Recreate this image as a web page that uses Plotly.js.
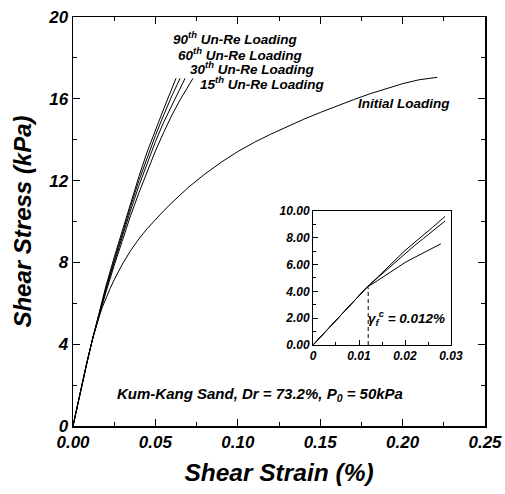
<!DOCTYPE html>
<html>
<head>
<meta charset="utf-8">
<script src="https://cdn.plot.ly/plotly-3.0.1.min.js"></script>
<style>html,body{margin:0;padding:0;background:#fff;}#chart{width:505px;height:494px;}</style>
</head>
<body>
<div id="chart"></div>
<script>
// Main chart data (shear strain %, shear stress kPa)
var initStrain = [0, 0.004, 0.008, 0.010, 0.012, 0.014, 0.016, 0.018, 0.020, 0.0225, 0.025, 0.0275, 0.030, 0.035, 0.040, 0.045, 0.050, 0.055, 0.060, 0.065, 0.070, 0.080, 0.090, 0.100, 0.110, 0.120, 0.130, 0.140, 0.150, 0.160, 0.170, 0.180, 0.190, 0.200, 0.210, 0.221];
var initStress = [0, 1.5, 2.95, 3.63, 4.28, 4.86, 5.38, 5.85, 6.25, 6.72, 7.15, 7.55, 7.92, 8.58, 9.15, 9.65, 10.1, 10.52, 10.92, 11.3, 11.67, 12.32, 12.9, 13.42, 13.87, 14.27, 14.65, 15.0, 15.33, 15.65, 15.95, 16.24, 16.5, 16.74, 16.93, 17.05];

var re90Strain = [0, 0.004, 0.008, 0.012, 0.016, 0.020, 0.025, 0.030, 0.035, 0.040, 0.045, 0.050, 0.055, 0.0625];
var re90Stress = [0, 1.5, 2.95, 4.3, 5.6, 6.85, 8.25, 9.6, 10.95, 12.2, 13.4, 14.5, 15.5, 17.0];

var re60Strain = [0, 0.004, 0.008, 0.012, 0.016, 0.020, 0.025, 0.030, 0.035, 0.040, 0.045, 0.050, 0.055, 0.060, 0.065];
var re60Stress = [0, 1.5, 2.95, 4.3, 5.55, 6.75, 8.1, 9.45, 10.75, 12.0, 13.15, 14.2, 15.2, 16.15, 17.0];

var re30Strain = [0, 0.004, 0.008, 0.012, 0.016, 0.020, 0.025, 0.030, 0.035, 0.040, 0.045, 0.050, 0.055, 0.060, 0.068];
var re30Stress = [0, 1.5, 2.95, 4.3, 5.5, 6.65, 8.0, 9.3, 10.55, 11.75, 12.85, 13.9, 14.85, 15.7, 17.0];

var re15Strain = [0, 0.004, 0.008, 0.012, 0.016, 0.020, 0.025, 0.030, 0.035, 0.040, 0.045, 0.050, 0.055, 0.060, 0.065, 0.0728];
var re15Stress = [0, 1.5, 2.95, 4.3, 5.45, 6.55, 7.85, 9.1, 10.3, 11.4, 12.45, 13.45, 14.35, 15.2, 15.95, 17.0];

// Inset data
var insetStrainA = [0, 0.004, 0.008, 0.0117, 0.014, 0.016, 0.018, 0.020, 0.022, 0.024, 0.026, 0.0287];
var insetStressA = [0, 1.45, 2.9, 4.3, 5.05, 5.68, 6.38, 7.05, 7.62, 8.18, 8.78, 9.6];
var insetStrainB = [0, 0.004, 0.008, 0.0117, 0.014, 0.016, 0.018, 0.020, 0.022, 0.024, 0.026, 0.0287];
var insetStressB = [0, 1.45, 2.9, 4.3, 5.0, 5.6, 6.25, 6.85, 7.4, 7.95, 8.5, 9.25];
var insetStrainC = [0, 0.004, 0.008, 0.0117, 0.014, 0.016, 0.018, 0.020, 0.022, 0.024, 0.026, 0.0278];
var insetStressC = [0, 1.45, 2.9, 4.3, 4.8, 5.25, 5.72, 6.15, 6.52, 6.88, 7.22, 7.55];
var thresholdStrain = [0.012, 0.012];
var thresholdStress = [0, 4.3];

var mainXTicks = [0, 0.05, 0.10, 0.15, 0.20, 0.25];
var mainXLabels = ['0.00', '0.05', '0.10', '0.15', '0.20', '0.25'];
var mainYTicks = [0, 4, 8, 12, 16, 20];
var insetXTicks = [0, 0.01, 0.02, 0.03];
var insetXLabels = ['0', '0.01', '0.02', '0.03'];
var insetYTicks = [0, 2, 4, 6, 8, 10];
var insetYLabels = ['0.00', '2.00', '4.00', '6.00', '8.00', '10.00'];

var F = 'Liberation Sans, Arial, sans-serif';
function ln(x, y, xa, ya, dash) {
  return {x: x, y: y, xaxis: xa, yaxis: ya, mode: 'lines', type: 'scatter',
    line: {color: '#000', width: 1, shape: 'linear', dash: dash || 'solid'}, hoverinfo: 'skip'};
}
var traces = [
  ln(initStrain, initStress, 'x', 'y'),
  ln(re90Strain, re90Stress, 'x', 'y'),
  ln(re60Strain, re60Stress, 'x', 'y'),
  ln(re30Strain, re30Stress, 'x', 'y'),
  ln(re15Strain, re15Stress, 'x', 'y'),
  ln(insetStrainA, insetStressA, 'x2', 'y2'),
  ln(insetStrainB, insetStressB, 'x2', 'y2'),
  ln(insetStrainC, insetStressC, 'x2', 'y2'),
  ln(thresholdStrain, thresholdStress, 'x2', 'y2', '4px,3px')
];

var tickFont = {family: F, size: 17, color: '#000', weight: 'bold', style: 'italic'};
var insetTickFont = {family: F, size: 12, color: '#000', weight: 'bold', style: 'italic'};
var annFont = {family: F, size: 13.5, color: '#000', weight: 'bold', style: 'italic'};

var layout = {
  width: 505, height: 494,
  margin: {l: 73, r: 20, t: 17, b: 68},
  paper_bgcolor: '#fff', plot_bgcolor: '#fff',
  showlegend: false,
  font: {family: F, color: '#000'},
  xaxis: {
    domain: [0, 1], range: [0, 0.25], tickvals: mainXTicks, ticktext: mainXLabels,
    ticks: 'inside', ticklen: 7, tickwidth: 1, tickcolor: '#000',
    minor: {ticks: 'inside', dtick: 0.025, ticklen: 4, tickcolor: '#000', showgrid: false},
    showline: true, linecolor: '#000', linewidth: 1.5, mirror: 'ticks',
    showgrid: false, zeroline: false, tickfont: tickFont,
    title: {text: 'Shear Strain (%)', font: {family: F, size: 24.5, color: '#000', weight: 'bold', style: 'italic'}, standoff: 13}
  },
  yaxis: {
    domain: [0, 1], range: [0, 20], tickvals: mainYTicks,
    ticks: 'inside', ticklen: 7, tickwidth: 1, tickcolor: '#000',
    minor: {ticks: 'inside', dtick: 2, ticklen: 4, tickcolor: '#000', showgrid: false},
    showline: true, linecolor: '#000', linewidth: 1.5, mirror: 'ticks',
    showgrid: false, zeroline: false, tickfont: tickFont,
    title: {text: 'Shear Stress (kPa)', font: {family: F, size: 24, color: '#000', weight: 'bold', style: 'italic'}, standoff: 10}
  },
  xaxis2: {
    domain: [0.5825, 0.9175], anchor: 'y2', range: [0, 0.03], tickvals: insetXTicks, ticktext: insetXLabels,
    ticks: 'inside', ticklen: 5, tickwidth: 1, tickcolor: '#000',
    minor: {ticks: 'inside', dtick: 0.005, ticklen: 3, tickcolor: '#000', showgrid: false},
    showline: true, linecolor: '#000', linewidth: 1, mirror: true,
    showgrid: false, zeroline: false, tickfont: insetTickFont
  },
  yaxis2: {
    domain: [0.198, 0.5257], anchor: 'x2', range: [0, 10], tickvals: insetYTicks, ticktext: insetYLabels,
    ticks: 'inside', ticklen: 5, tickwidth: 1, tickcolor: '#000',
    minor: {ticks: 'inside', dtick: 1, ticklen: 3, tickcolor: '#000', showgrid: false},
    showline: true, linecolor: '#000', linewidth: 1, mirror: true,
    showgrid: false, zeroline: false, tickfont: insetTickFont
  },
  annotations: [
    {text: '90<sup>th</sup> Un-Re Loading', x: 0.0595, y: 18.95, xref: 'x', yref: 'y', xanchor: 'left', yanchor: 'middle', showarrow: false, font: annFont},
    {text: '60<sup>th</sup> Un-Re Loading', x: 0.0625, y: 18.2, xref: 'x', yref: 'y', xanchor: 'left', yanchor: 'middle', showarrow: false, font: annFont},
    {text: '30<sup>th</sup> Un-Re Loading', x: 0.0700, y: 17.5, xref: 'x', yref: 'y', xanchor: 'left', yanchor: 'middle', showarrow: false, font: annFont},
    {text: '15<sup>th</sup> Un-Re Loading', x: 0.0760, y: 16.75, xref: 'x', yref: 'y', xanchor: 'left', yanchor: 'middle', showarrow: false, font: annFont},
    {text: 'Initial Loading', x: 0.172, y: 15.75, xref: 'x', yref: 'y', xanchor: 'left', yanchor: 'middle', showarrow: false, font: annFont},
    {text: 'Kum-Kang Sand, Dr = 73.2%, P<sub>0</sub> = 50kPa', x: 0.0255, y: 1.55, xref: 'x', yref: 'y', xanchor: 'left', yanchor: 'middle', showarrow: false, font: {family: F, size: 15, color: '#000', weight: 'bold', style: 'italic'}},
    {text: 'γ<sub>f</sub><sup>c</sup> = 0.012%', x: 0.0116, y: 2.0, xref: 'x2', yref: 'y2', xanchor: 'left', yanchor: 'middle', showarrow: false, font: {family: F, size: 13.5, color: '#000', weight: 'bold', style: 'italic'}}
  ]
};
Plotly.newPlot('chart', traces, layout, {displayModeBar: false, staticPlot: true});
</script>
</body>
</html>
